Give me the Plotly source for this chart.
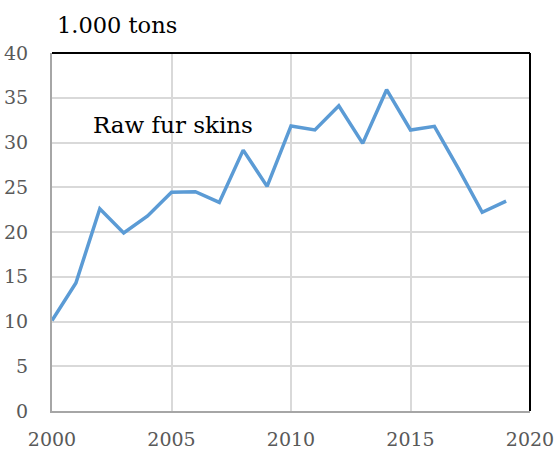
import plotly.graph_objects as go

years = list(range(2000, 2020))
values = [10.1, 14.3, 22.6, 19.9, 21.8, 24.45, 24.5, 23.3, 29.15, 25.1,
          31.85, 31.4, 34.1, 29.9, 35.9, 31.4, 31.8, 27.1, 22.2, 23.45]
y_ticks = [0, 5, 10, 15, 20, 25, 30, 35, 40]
x_ticks = [2000, 2005, 2010, 2015, 2020]
unit_label = "1.000 tons"
series_label = "Raw fur skins"

FONT = "DejaVu Serif"
TICK = dict(family=FONT, size=19, color="#595959")

fig = go.Figure()
fig.add_trace(go.Scatter(
    x=years, y=values, mode="lines",
    line=dict(color="#5B9BD5", width=3.5),
    hoverinfo="skip", showlegend=False,
))

fig.update_layout(
    width=556, height=450,
    margin=dict(l=52, r=26, t=53, b=39, autoexpand=False),
    paper_bgcolor="white", plot_bgcolor="white",
    font=dict(family=FONT, size=19, color="#595959"),
    showlegend=False,
    xaxis=dict(
        range=[2000, 2020], tickvals=x_ticks, ticktext=[str(v) for v in x_ticks],
        showgrid=True, gridcolor="#D9D9D9", gridwidth=1.5,
        showline=True, linecolor="#A6A6A6", linewidth=2,
        zeroline=False, ticks="", ticklabelstandoff=10, automargin=False,
        ticklabeloverflow="allow",
        tickfont=TICK, fixedrange=True,
    ),
    yaxis=dict(
        range=[0, 40], tickvals=y_ticks, ticktext=[str(v) for v in y_ticks],
        showgrid=True, gridcolor="#D9D9D9", gridwidth=1.5,
        showline=True, linecolor="#A6A6A6", linewidth=2,
        zeroline=False, ticks="", ticklabelstandoff=18, automargin=False,
        ticklabeloverflow="allow",
        tickfont=TICK, fixedrange=True,
    ),
    shapes=[
        # white label box hiding the gridlines behind the series label
        dict(type="rect", xref="x", yref="y", x0=2000.85, x1=2007.9, y0=29.0, y1=35.1,
             fillcolor="white", line=dict(width=0), layer="below"),
        dict(type="line", xref="paper", yref="paper", x0=0, x1=1, y0=1, y1=1,
             line=dict(color="black", width=2)),
        dict(type="line", xref="paper", yref="paper", x0=1, x1=1, y0=0, y1=1,
             line=dict(color="black", width=2)),
    ],
    annotations=[
        dict(text=unit_label, xref="paper", yref="paper", x=0, y=1,
             xanchor="left", yanchor="middle", xshift=3, yshift=28,
             showarrow=False, font=dict(family=FONT, size=22.5, color="black")),
        dict(text=series_label, xref="x", yref="y", x=2005.07, y=32.0,
             xanchor="center", yanchor="middle", showarrow=False,
             font=dict(family=FONT, size=23, color="black")),
    ],
)

fig.write_html("out.html")
